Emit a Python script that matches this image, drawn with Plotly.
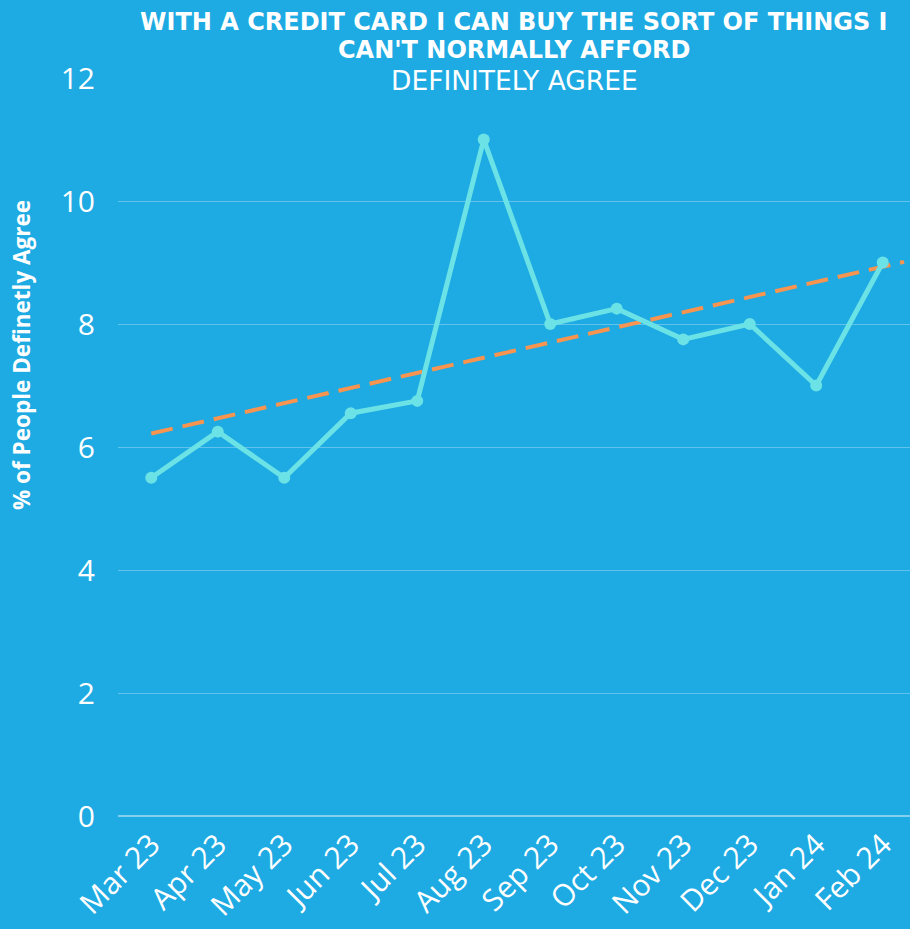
import plotly.graph_objects as go

months = ["Mar 23", "Apr 23", "May 23", "Jun 23", "Jul 23", "Aug 23",
          "Sep 23", "Oct 23", "Nov 23", "Dec 23", "Jan 24", "Feb 24"]
agree_pct = [5.5, 6.25, 5.5, 6.55, 6.75, 11.0, 8.0, 8.25, 7.75, 8.0, 7.0, 9.0]
y_ticks = [0, 2, 4, 6, 8, 10, 12]

# linear trend: positions along the month index and its values there
trend_pos = [0, 11.32]
trend_val = [6.22, 9.01]

BG = "#1EAAE2"
LINE = "#6BE2E6"
TREND = "#F7944F"
W, H = 910, 929
L, R, T, B = 118, 0, 78, 113

x_idx = list(range(len(months)))

fig = go.Figure()
fig.add_trace(go.Scatter(
    x=trend_pos, y=trend_val, mode="lines",
    line=dict(color=TREND, width=4, dash="22px,10px"),
    hoverinfo="skip", showlegend=False,
))
fig.add_trace(go.Scatter(
    x=x_idx, y=agree_pct, mode="lines+markers",
    line=dict(color=LINE, width=5),
    marker=dict(color=LINE, size=12),
    showlegend=False,
))

plot_h = H - T - B

def py(p):
    # convert a pixel row into paper coordinates
    return (H - B - p) / plot_h

TITLE_FONT = "DejaVu Sans"
title_lines = [
    ("<b>WITH A CREDIT CARD I CAN BUY THE SORT OF THINGS I</b>", 22, 24),
    ("<b>CAN'T NORMALLY AFFORD</b>", 50, 24),
    ("DEFINITELY AGREE", 80, 26.5),
]
for txt, ypix, size in title_lines:
    fig.add_annotation(
        x=0.5, y=py(ypix), xref="paper", yref="paper",
        xanchor="center", yanchor="middle",
        text=txt, showarrow=False,
        font=dict(family=TITLE_FONT, size=size, color="white"),
    )

fig.add_annotation(
    x=-(L - 21) / (W - L - R), y=py(355), xref="paper", yref="paper",
    xanchor="center", yanchor="middle", textangle=-90,
    text="<b>% of People Definetly Agree</b>", showarrow=False,
    font=dict(family="Open Sans", size=22.5, color="white"),
)

fig.update_layout(
    width=W, height=H,
    margin=dict(l=L, r=R, t=T, b=B, autoexpand=False),
    paper_bgcolor=BG, plot_bgcolor=BG,
    font=dict(family="Open Sans", color="white"),
    xaxis=dict(
        range=[-0.5, len(months) - 1 + 0.41],
        tickvals=x_idx, ticktext=months, tickangle=-45,
        showgrid=False, zeroline=False, showline=False, ticks="",
        ticklabelstandoff=4, automargin=False,
        tickfont=dict(size=30, color="white"),
    ),
    yaxis=dict(
        range=[0, 12], tickvals=y_ticks,
        showgrid=True, gridcolor="rgba(255,255,255,0.3)", gridwidth=1,
        zeroline=True, zerolinecolor="rgba(255,255,255,0.45)", zerolinewidth=1.5,
        showline=False, ticks="", ticklabelstandoff=22, automargin=False,
        tickfont=dict(size=30, color="white"),
    ),
)

fig.write_html("out.html")
